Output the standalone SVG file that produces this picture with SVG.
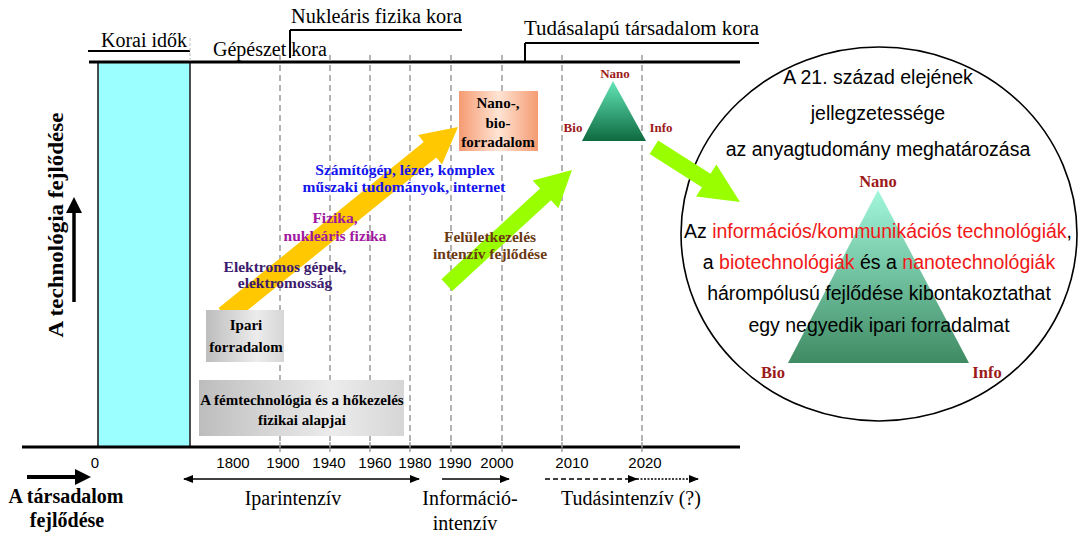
<svg xmlns="http://www.w3.org/2000/svg" width="1084" height="533" viewBox="0 0 1084 533">
<defs>
<style>
.serif{font-family:"Liberation Serif","Times New Roman",serif;}
.sans{font-family:"Liberation Sans",Arial,sans-serif;}
.b{font-weight:bold;}
.mid{text-anchor:middle;}
.dash{stroke:#9a9a9a;stroke-width:1.5;stroke-dasharray:6,4;fill:none;}
.tick{stroke:#888;stroke-width:1.2;}
.line{stroke:#000;fill:none;}
.red{fill:#f01818;}
.dred{fill:#9c1a1a;}
</style>
<linearGradient id="gray" x1="0" y1="0" x2="1" y2="0">
<stop offset="0" stop-color="#bdbdbd"/>
<stop offset="0.65" stop-color="#ececec"/>
<stop offset="1" stop-color="#d6d6d6"/>
</linearGradient>
<linearGradient id="salmon" x1="0" y1="0" x2="1" y2="0">
<stop offset="0" stop-color="#f59b72"/>
<stop offset="0.5" stop-color="#ffe4d4"/>
<stop offset="1" stop-color="#f59b72"/>
</linearGradient>
<linearGradient id="tri1" x1="0" y1="0" x2="0" y2="1">
<stop offset="0" stop-color="#63e6b8"/>
<stop offset="1" stop-color="#0e6a3f"/>
</linearGradient>
<linearGradient id="tri2" x1="0" y1="0" x2="0" y2="1">
<stop offset="0" stop-color="#a2f7dc"/>
<stop offset="1" stop-color="#3f8b63"/>
</linearGradient>
<marker id="ah" markerWidth="10" markerHeight="8" refX="9" refY="4" orient="auto" markerUnits="userSpaceOnUse">
<path d="M0,0 L10,4 L0,8 Z" fill="#000"/>
</marker>
<marker id="ahs" markerWidth="10" markerHeight="8" refX="1" refY="4" orient="auto" markerUnits="userSpaceOnUse">
<path d="M10,0 L0,4 L10,8 Z" fill="#000"/>
</marker>
</defs>

<g id="axes">
<rect x="98" y="62" width="92" height="385" fill="#9cffff" stroke="#222" stroke-width="1.6"/>
<line class="line" x1="89" y1="62" x2="740" y2="62" stroke-width="3"/>
<line class="line" x1="22" y1="447" x2="740" y2="447" stroke-width="3"/>
<line class="line" x1="88" y1="51" x2="190" y2="51" stroke-width="2"/>
<line x1="190" y1="38" x2="190" y2="62" stroke="#bbb" stroke-width="1" stroke-dasharray="3,2"/>
<line class="line" x1="290" y1="30" x2="462" y2="30" stroke-width="2"/>
<line class="line" x1="290" y1="30" x2="290" y2="58" stroke-width="2"/>
<line class="line" x1="525" y1="43" x2="759" y2="43" stroke-width="2"/>
<line class="line" x1="525" y1="43" x2="525" y2="62" stroke-width="2"/>
<g>
<line class="dash" x1="280" y1="55" x2="280" y2="447"/>
<line class="dash" x1="330" y1="55" x2="330" y2="447"/>
<line class="dash" x1="370" y1="55" x2="370" y2="447"/>
<line class="dash" x1="410" y1="55" x2="410" y2="447"/>
<line class="dash" x1="451" y1="55" x2="451" y2="447"/>
<line class="dash" x1="502" y1="55" x2="502" y2="447"/>
<line class="dash" x1="562" y1="55" x2="562" y2="447"/>
<line class="dash" x1="642" y1="55" x2="642" y2="447"/>
</g>
<g>
<line class="tick" x1="280" y1="442" x2="280" y2="452"/>
<line class="tick" x1="330" y1="442" x2="330" y2="452"/>
<line class="tick" x1="370" y1="442" x2="370" y2="452"/>
<line class="tick" x1="410" y1="442" x2="410" y2="452"/>
<line class="tick" x1="451" y1="442" x2="451" y2="452"/>
<line class="tick" x1="502" y1="442" x2="502" y2="452"/>
<line class="tick" x1="562" y1="442" x2="562" y2="452"/>
<line class="tick" x1="642" y1="442" x2="642" y2="452"/>
</g>
</g>

<g id="era-labels" class="serif" font-size="20">
<text x="101" y="47">Korai idők</text>
<text x="213" y="56">Gépészet kora</text>
<text x="291" y="23" textLength="171" lengthAdjust="spacingAndGlyphs">Nukleáris fizika kora</text>
<text x="524" y="35" textLength="235" lengthAdjust="spacingAndGlyphs">Tudásalapú társadalom kora</text>
</g>

<g id="year-labels" class="sans mid" font-size="15">
<text x="95" y="468">0</text>
<text x="233" y="468">1800</text>
<text x="283" y="468">1900</text>
<text x="329" y="468">1940</text>
<text x="375" y="468">1960</text>
<text x="415" y="468">1980</text>
<text x="455" y="468">1990</text>
<text x="497" y="468">2000</text>
<text x="572" y="468">2010</text>
<text x="645" y="468">2020</text>
</g>

<g id="femtechnologia">
<rect x="199" y="380" width="205" height="56" fill="url(#gray)"/>
<text class="serif b mid" font-size="15" x="302" y="405">A fémtechnológia és a hőkezelés</text>
<text class="serif b mid" font-size="15" x="302" y="425">fizikai alapjai</text>
</g>

<g id="nano-bio">
<rect x="459" y="91" width="79" height="60" fill="url(#salmon)"/>
<text class="serif b mid" font-size="15" x="498" y="108">Nano-,</text>
<text class="serif b mid" font-size="15" x="498" y="128">bio-</text>
<text class="serif b mid" font-size="15" x="498" y="147">forradalom</text>
</g>

<g id="small-triangle">
<polygon points="613,81 646,141 582,141" fill="url(#tri1)"/>
<text class="serif b mid dred" font-size="13" x="615" y="78">Nano</text>
<text class="serif b mid dred" font-size="13" x="573" y="132">Bio</text>
<text class="serif b mid dred" font-size="13" x="661" y="132">Info</text>
</g>

<g id="circle">
<ellipse cx="879" cy="234" rx="198" ry="187" fill="none" stroke="#000" stroke-width="1.6"/>
<polygon points="878,190 969,363 788,363" fill="url(#tri2)"/>
<text class="serif b mid dred" font-size="16.5" x="878" y="187">Nano</text>
<text class="serif b mid dred" font-size="16.5" x="773" y="378">Bio</text>
<text class="serif b mid dred" font-size="16.5" x="987" y="378">Info</text>
<g class="sans mid" font-size="19.5" fill="#000">
<text x="878" y="84">A 21. század elejének</text>
<text x="878" y="120">jellegzetessége</text>
<text x="878" y="156">az anyagtudomány meghatározása</text>
<text x="878" y="238">Az <tspan class="red">információs/kommunikációs technológiák</tspan>,</text>
<text x="879" y="269">a <tspan class="red">biotechnológiák</tspan> és a <tspan class="red">nanotechnológiák</tspan></text>
<text x="879" y="300">hárompólusú fejlődése kibontakoztathat</text>
<text x="879" y="332">egy negyedik ipari forradalmat</text>
</g>
</g>

<g id="connectors">
<line x1="184" y1="479" x2="419" y2="479" stroke="#000" stroke-width="1.6" marker-start="url(#ahs)" marker-end="url(#ah)"/>
<line x1="442" y1="479" x2="509" y2="479" stroke="#000" stroke-width="1.6" marker-end="url(#ah)"/>
<line x1="545" y1="479" x2="637" y2="479" stroke="#000" stroke-width="1.6" stroke-dasharray="5,3" marker-end="url(#ah)"/>
<line x1="637" y1="479" x2="698" y2="479" stroke="#000" stroke-width="1.6" stroke-dasharray="2,1.5" marker-end="url(#ah)"/>
<path d="M27,477 L76,477" stroke="#000" stroke-width="4"/>
<path d="M75,469 L91,477 L75,485 Z" fill="#000"/>
<path d="M74,302 L74,212" stroke="#000" stroke-width="3.5"/>
<path d="M66,213 L74,197 L82,213 Z" fill="#000"/>
<g transform="translate(458,127) rotate(-39)">
<polygon points="0,0 -36,19 -36,10 -300,10 -300,-10 -36,-10 -36,-19" fill="#ffc800"/>
</g>
<g transform="translate(572,170) rotate(-42.6)">
<polygon points="0,0 -36,19 -36,8 -170,8 -170,-8 -36,-8 -36,-19" fill="#99ff00"/>
</g>
<g transform="translate(740,202) rotate(32.4)">
<polygon points="0,0 -40,19 -40,8 -102,8 -102,-8 -40,-8 -40,-19" fill="#99ff00"/>
</g>
</g>

<g id="ipari-forradalom">
<rect x="206" y="310" width="78" height="52" fill="url(#gray)"/>
<text class="serif b mid" font-size="15" x="246" y="330">Ipari</text>
<text class="serif b mid" font-size="15" x="246" y="352">forradalom</text>
</g>

<g id="label-szamitogep" class="serif b mid" font-size="15.5" fill="#1414ee">
<text x="405" y="175">Számítógép, lézer, komplex</text>
<text x="404" y="192">műszaki tudományok, internet</text>
</g>
<g id="label-fizika" class="serif b mid" font-size="15.5" fill="#a0189f">
<text x="335" y="223">Fizika,</text>
<text x="335" y="241">nukleáris fizika</text>
</g>
<g id="label-elektromos" class="serif b mid" font-size="15.5" fill="#3b1a6e">
<text x="285" y="272">Elektromos gépek,</text>
<text x="285" y="288">elektromosság</text>
</g>
<g id="label-felulet" class="serif b mid" font-size="15.5" fill="#6b3a12">
<text x="490" y="242">Felületkezelés</text>
<text x="490" y="259">intenzív fejlődése</text>
</g>

<g id="axis-titles" class="serif b">
<text class="mid" font-size="20" transform="translate(63,225) rotate(-90)" textLength="225" lengthAdjust="spacingAndGlyphs">A technológia fejlődése</text>
<text class="mid" font-size="20" x="66" y="503">A társadalom</text>
<text class="mid" font-size="20" x="67" y="527">fejlődése</text>
</g>

<g id="bottom-labels" class="serif mid" font-size="20">
<text x="293" y="505">Iparintenzív</text>
<text x="470" y="505">Információ-</text>
<text x="465" y="530">intenzív</text>
<text x="631" y="505">Tudásintenzív (?)</text>
</g>
</svg>
